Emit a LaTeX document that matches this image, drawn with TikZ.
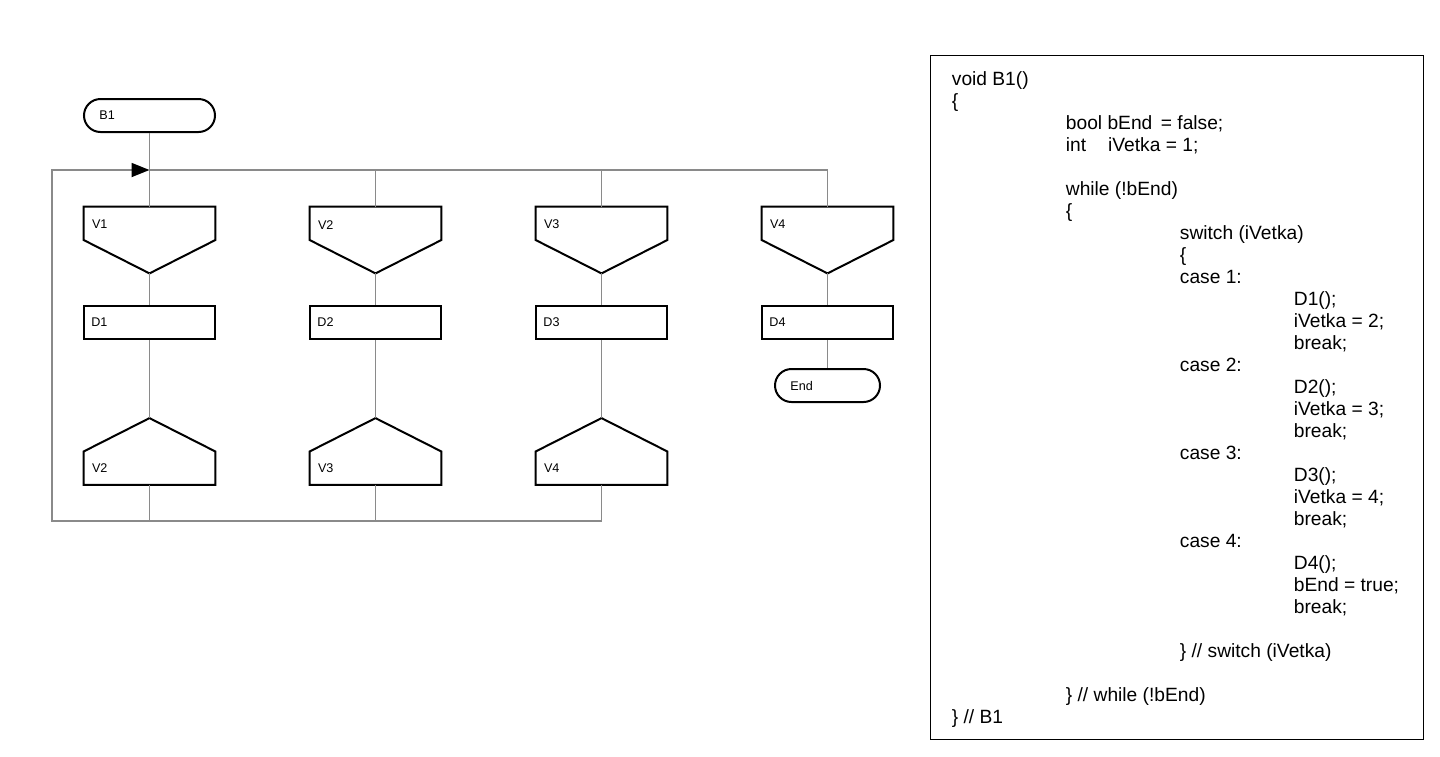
\documentclass[tikz,border=0pt]{standalone}
\usepackage{fontspec}
\setmainfont{Liberation Sans}
\usetikzlibrary{arrows.meta, positioning, calc, shapes.misc}
\definecolor{flowLine}{HTML}{8A8A8A}
\newcommand{\cind}[1]{\hspace*{\dimexpr #1\dimexpr 57pt\relax\relax}}

\begin{document}
\begin{tikzpicture}[
    x=0.5pt, y=-0.5pt,
    % --- node styles ---
    shp/.style={draw=black, line width=1pt},
    term/.style={rounded rectangle, shp, minimum height=16.5pt, inner sep=0pt},
    dbox/.style={rectangle, shp, minimum width=65.5pt, minimum height=16.5pt,
                 inner sep=0pt},
    loopbeg/.style={minimum width=65.5pt, minimum height=33pt, inner sep=0pt,
        append after command={\pgfextra{\draw[shp]
            (\tikzlastnode.north west) -- (\tikzlastnode.north east)
            -- (\tikzlastnode.east) -- (\tikzlastnode.south)
            -- (\tikzlastnode.west) -- cycle;}}},
    loopend/.style={minimum width=65.5pt, minimum height=33pt, inner sep=0pt,
        append after command={\pgfextra{\draw[shp]
            (\tikzlastnode.north) -- (\tikzlastnode.east)
            -- (\tikzlastnode.south east) -- (\tikzlastnode.south west)
            -- (\tikzlastnode.west) -- cycle;}}},
    % --- annotation styles ---
    lbl/.style={font=\fontsize{6.3}{7}\selectfont, inner sep=0pt, anchor=west},
    conn/.style={draw=flowLine, line width=0.9pt},
    code/.style={font=\fontsize{9.6}{11}\selectfont, align=left, inner sep=0pt},
]
\useasboundingbox (0,0) rectangle (1440,756);

% ===== FLOW CHART ===========================================================

% -- Start --
\node[term, minimum width=65.5pt] (b1) at (149.5,115.5) {};
\node[lbl] (t-b1) at ($(b1.west)+(16,0)$) {B1};

\coordinate (bus)   at (149.5,170);
\coordinate (loopL) at (52,521);

% -- Column 1 --
\node[loopbeg] (v1) at (149.5,240) {};
\node[lbl] (t-v1) at ($(v1.north west)+(8,18)$) {V1};
\node[dbox] (d1) at (149.5,322.5) {};
\node[lbl] (t-d1) at ($(d1.west)+(8,0)$) {D1};
\node[loopend] (l1) at (149.5,451.5) {};
\node[lbl] (t-l1) at ($(l1.south west)+(8,-17)$) {V2};

% -- Column 2 --
\node[loopbeg] (v2) at (375.5,240) {};
\node[lbl] (t-v2) at ($(v2.north west)+(8,18)$) {V2};
\node[dbox] (d2) at (375.5,322.5) {};
\node[lbl] (t-d2) at ($(d2.west)+(8,0)$) {D2};
\node[loopend] (l2) at (375.5,451.5) {};
\node[lbl] (t-l2) at ($(l2.south west)+(8,-17)$) {V3};

% -- Column 3 --
\node[loopbeg] (v3) at (601.5,240) {};
\node[lbl] (t-v3) at ($(v3.north west)+(8,18)$) {V3};
\node[dbox] (d3) at (601.5,322.5) {};
\node[lbl] (t-d3) at ($(d3.west)+(8,0)$) {D3};
\node[loopend] (l3) at (601.5,451.5) {};
\node[lbl] (t-l3) at ($(l3.south west)+(8,-17)$) {V4};

% -- Column 4 --
\node[loopbeg] (v4) at (827.5,240) {};
\node[lbl] (t-v4) at ($(v4.north west)+(8,18)$) {V4};
\node[dbox] (d4) at (827.5,322.5) {};
\node[lbl] (t-d4) at ($(d4.west)+(8,0)$) {D4};
\node[term, minimum width=52.5pt] (end) at (827.5,385.5) {};
\node[lbl] (t-end) at ($(end.west)+(16,0)$) {End};

% -- Connectors --
\draw[conn] (b1.south) -- (v1.north);
\draw[conn] (bus) -| (v4.north);
\draw[conn] (v2.north) -- (v2.north |- bus);
\draw[conn] (v3.north) -- (v3.north |- bus);
\draw[conn] (v1.south) -- (d1.north);
\draw[conn] (v2.south) -- (d2.north);
\draw[conn] (v3.south) -- (d3.north);
\draw[conn] (v4.south) -- (d4.north);
\draw[conn] (d1.south) -- (l1.north);
\draw[conn] (d2.south) -- (l2.north);
\draw[conn] (d3.south) -- (l3.north);
\draw[conn] (d4.south) -- (end.north);
\draw[conn] (l1.south) -- (l1.south |- loopL);
\draw[conn] (l2.south) -- (l2.south |- loopL);
\draw[conn, -{Triangle[length=9pt, width=7pt, color=black]}]
    (l3.south) |- (loopL) |- (bus);

% ===== SOURCE CODE ==========================================================

\node[draw, line width=0.5pt, minimum width=246.5pt, minimum height=342pt,
      inner sep=0pt] (codebox) at (1176.5,397) {};

% base anchor of a multi-line node sits on its last line
\node[code, anchor=base west] (src) at ($(codebox.south west)+(22,-16)$)
    {void B1()\\
     \{\\
     \cind{1}bool bEnd\ \,= false;\\
     \cind{1}int\hspace{11pt}iVetka = 1;\\[11pt]
     \cind{1}while (!bEnd)\\
     \cind{1}\{\\
     \cind{2}switch (iVetka)\\
     \cind{2}\{\\
     \cind{2}case 1:\\
     \cind{3}D1();\\
     \cind{3}iVetka = 2;\\
     \cind{3}break;\\
     \cind{2}case 2:\\
     \cind{3}D2();\\
     \cind{3}iVetka = 3;\\
     \cind{3}break;\\
     \cind{2}case 3:\\
     \cind{3}D3();\\
     \cind{3}iVetka = 4;\\
     \cind{3}break;\\
     \cind{2}case 4:\\
     \cind{3}D4();\\
     \cind{3}bEnd = true;\\
     \cind{3}break;\\[11pt]
     \cind{2}\} // switch (iVetka)\\[11pt]
     \cind{1}\} // while (!bEnd)\\
     \} // B1};

\end{tikzpicture}
\end{document}
